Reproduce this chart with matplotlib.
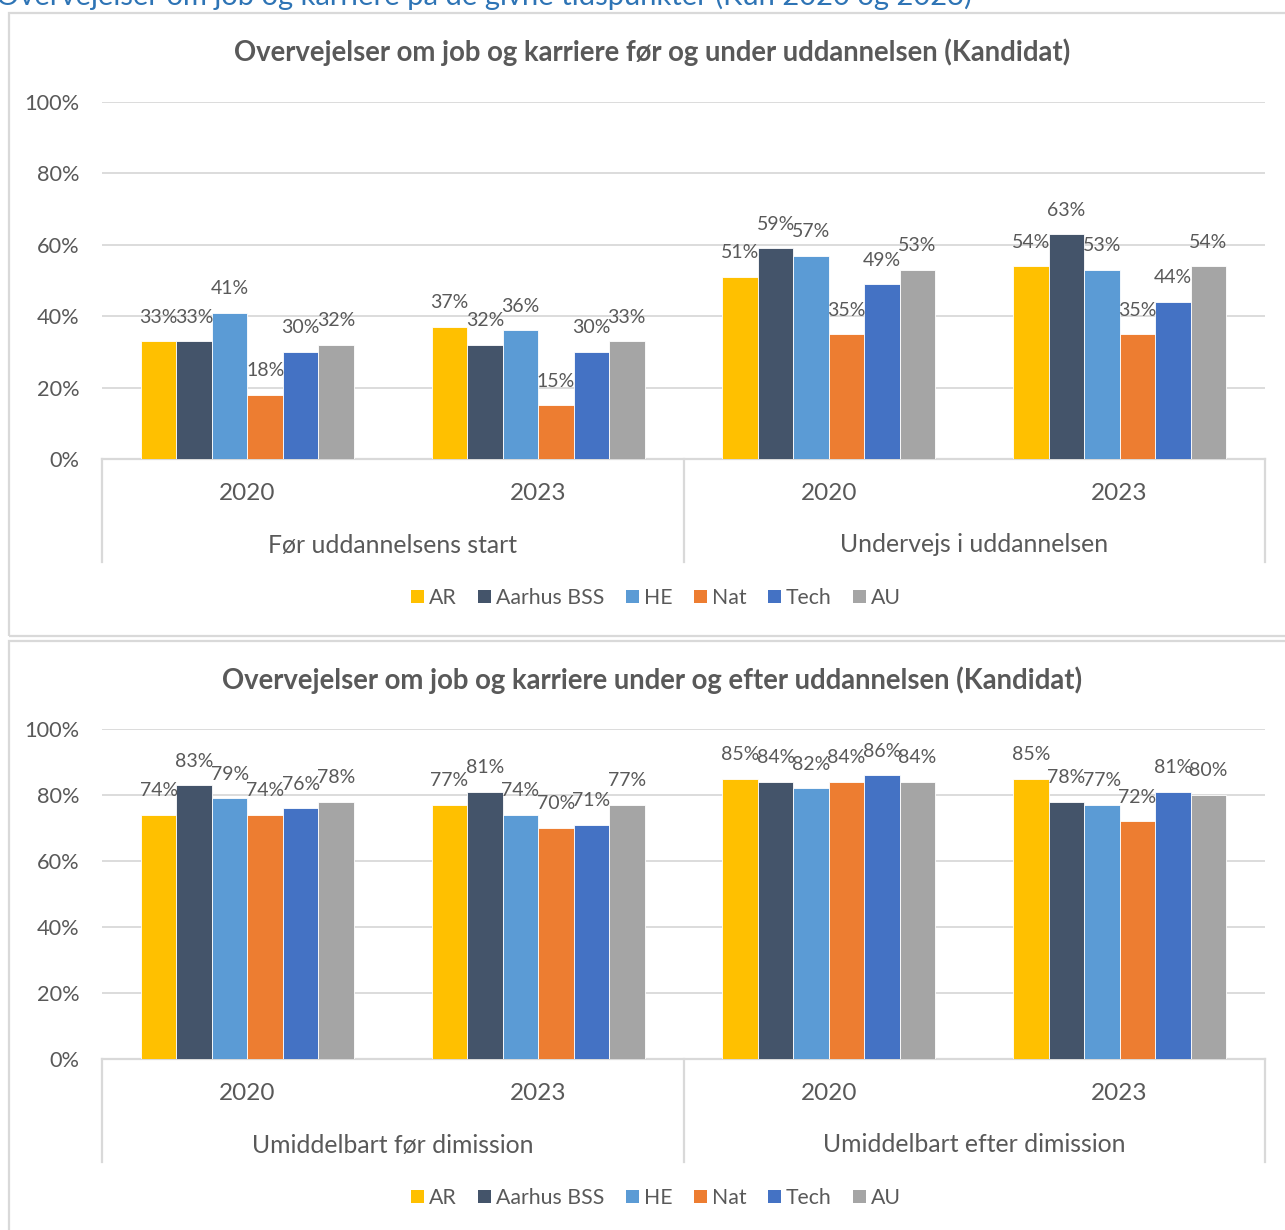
import matplotlib
matplotlib.use("Agg")
import matplotlib.pyplot as plt
from matplotlib.patches import Rectangle, Patch
import numpy as np

# ---------------- data ----------------
series = ["AR", "Aarhus BSS", "HE", "Nat", "Tech", "AU"]
colors = ["#FFC000", "#44546A", "#5B9BD5", "#ED7D31", "#4472C4", "#A5A5A5"]
years = ["2020", "2023", "2020", "2023"]

top_groups = ["Før uddannelsens start", "Undervejs i uddannelsen"]
top_title = "Overvejelser om job og karriere før og under uddannelsen (Kandidat)"
# columns: Før 2020, Før 2023, Undervejs 2020, Undervejs 2023
top_values = {
    "AR":         [33, 37, 51, 54],
    "Aarhus BSS": [33, 32, 59, 63],
    "HE":         [41, 36, 57, 53],
    "Nat":        [18, 15, 35, 35],
    "Tech":       [30, 30, 49, 44],
    "AU":         [32, 33, 53, 54],
}

bottom_groups = ["Umiddelbart før dimission", "Umiddelbart efter dimission"]
bottom_title = "Overvejelser om job og karriere under og efter uddannelsen (Kandidat)"
bottom_values = {
    "AR":         [74, 77, 85, 85],
    "Aarhus BSS": [83, 81, 84, 78],
    "HE":         [79, 74, 82, 77],
    "Nat":        [74, 70, 84, 72],
    "Tech":       [76, 71, 86, 81],
    "AU":         [78, 77, 84, 80],
}

heading = "Overvejelser om job og karriere på de givne tidspunkter (Kun 2020 og 2023)"
yticks = [0, 20, 40, 60, 80, 100]

# ---------------- style ----------------
W, H = 1285, 1230
FONT = "Lato"
TXT = "#595959"
GRID = "#D9D9D9"
plt.rcParams["font.family"] = [FONT, "DejaVu Sans"]

fig = plt.figure(figsize=(W / 100, H / 100), dpi=100)


def fx(px):
    return px / W


def fy(py):
    return 1 - py / H


# heading (cut off at the top of the image, as in the source)
fig.text(fx(-4), fy(5), heading, color="#2E74B5", fontsize=21,
         ha="left", va="baseline")

# panel frames
for (y0, y1) in [(13, 636), (641, 1245)]:
    fig.add_artist(Rectangle((fx(9), fy(y1)), fx(1300 - 9), fy(y0) - fy(y1),
                             transform=fig.transFigure, fill=False,
                             edgecolor=GRID, linewidth=1.6, clip_on=False))

bar_w = 0.122
n = len(series)


def draw_chart(values, groups, title, y_top, y_zero, title_y, legend_y,
               year_y, group_y, line_y):
    left, right = 102, 1265
    ax = fig.add_axes([fx(left), fy(y_zero), fx(right - left),
                       fy(y_top) - fy(y_zero)])
    ax.set_xlim(-0.5, 3.5)
    ax.set_ylim(0, 100)
    x = np.arange(len(years))
    for i, s in enumerate(series):
        xs = x + (i - (n - 1) / 2) * bar_w
        bars = ax.bar(xs, values[s], width=bar_w, color=colors[i],
                      edgecolor="white", linewidth=0.6, zorder=3)
        for b, v in zip(bars, values[s]):
            ax.annotate(f"{v}%", (b.get_x() + b.get_width() / 2, v),
                        xytext=(0, 17.3), textcoords="offset points",
                        ha="center", va="center", fontsize=14,
                        color=TXT, zorder=4)
    ax.set_yticks(yticks)
    ax.set_yticklabels([f"{t}%" for t in yticks])
    ax.tick_params(axis="y", length=0, pad=16, labelsize=15.7,
                   labelcolor=TXT)
    ax.set_xticks([])
    for t in yticks[1:]:
        ax.axhline(t, color=GRID, linewidth=1.3, zorder=1)
    for sp in ["top", "right", "left"]:
        ax.spines[sp].set_visible(False)
    ax.spines["bottom"].set_color(GRID)
    ax.spines["bottom"].set_linewidth(1.6)

    # multi-level category axis
    for i, yr in enumerate(years):
        ax.annotate(yr, (x[i], 0), xycoords=("data", "axes fraction"),
                    xytext=(0, -(year_y - y_zero) * 0.72),
                    textcoords="offset points", ha="center", va="center",
                    fontsize=17.5, color=TXT)
    for g, name in enumerate(groups):
        ax.annotate(name, (2 * g + 0.5, 0), xycoords=("data", "axes fraction"),
                    xytext=(0, -(group_y - y_zero) * 0.72),
                    textcoords="offset points", ha="center", va="center",
                    fontsize=17.8, color=TXT)
    frac = -(line_y - y_zero) / (y_zero - y_top)
    for xv in [-0.5, 1.5, 3.5]:
        ax.plot([xv, xv], [0, frac], color=GRID, linewidth=1.6,
                transform=ax.get_xaxis_transform(), clip_on=False)

    fig.text(fx(652), fy(title_y), title, ha="center", va="center",
             fontsize=19.8, fontweight="bold", color=TXT)

    handles = [Patch(facecolor=c, edgecolor="none") for c in colors]
    fig.legend(handles, series, loc="center",
               bbox_to_anchor=(fx(656), fy(legend_y)), ncol=n,
               frameon=False, fontsize=15.3, handlelength=0.6,
               handleheight=0.6, handletextpad=0.25, columnspacing=1.0,
               labelcolor=TXT)
    return ax


draw_chart(top_values, top_groups, top_title, y_top=102, y_zero=459,
           title_y=52, legend_y=598, year_y=493, group_y=545, line_y=562)
draw_chart(bottom_values, bottom_groups, bottom_title, y_top=729,
           y_zero=1059, title_y=680, legend_y=1198, year_y=1093,
           group_y=1145, line_y=1162)

fig.savefig("out.png", dpi=100)
